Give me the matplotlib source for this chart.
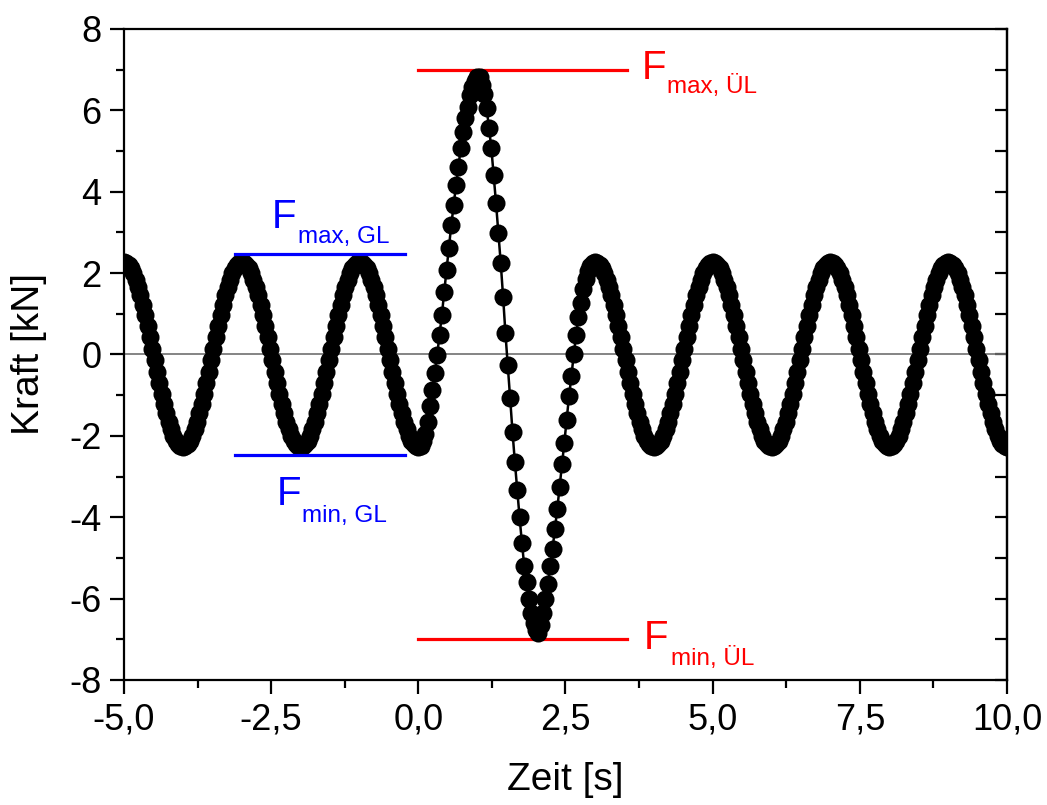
import numpy as np
import matplotlib
matplotlib.use("Agg")
import matplotlib.pyplot as plt
from matplotlib.ticker import MultipleLocator, FuncFormatter, NullFormatter

plt.rcParams['font.family'] = ['Liberation Sans', 'DejaVu Sans']
plt.rcParams['axes.unicode_minus'] = False

# ---------------- data ----------------
abtastintervall = 0.04   # s
zeit_start = -5.0

# regular load, t = -5.00 ... -0.04 s
kraft_vor = [
    2.28, 2.26, 2.21, 2.12, 2.00, 1.84, 1.66, 1.45, 1.22, 0.97,
    0.70, 0.43, 0.14, -0.14, -0.43, -0.70, -0.97, -1.22, -1.45, -1.66,
    -1.84, -2.00, -2.12, -2.21, -2.26, -2.28, -2.26, -2.21, -2.12, -2.00,
    -1.84, -1.66, -1.45, -1.22, -0.97, -0.70, -0.43, -0.14, 0.14, 0.43,
    0.70, 0.97, 1.22, 1.45, 1.66, 1.84, 2.00, 2.12, 2.21, 2.26,
    2.28, 2.26, 2.21, 2.12, 2.00, 1.84, 1.66, 1.45, 1.22, 0.97,
    0.70, 0.43, 0.14, -0.14, -0.43, -0.70, -0.97, -1.22, -1.45, -1.66,
    -1.84, -2.00, -2.12, -2.21, -2.26, -2.28, -2.26, -2.21, -2.12, -2.00,
    -1.84, -1.66, -1.45, -1.22, -0.97, -0.70, -0.43, -0.14, 0.14, 0.43,
    0.70, 0.97, 1.22, 1.45, 1.66, 1.84, 2.00, 2.12, 2.21, 2.26,
    2.28, 2.26, 2.21, 2.12, 2.00, 1.84, 1.66, 1.45, 1.22, 0.97,
    0.70, 0.43, 0.14, -0.14, -0.43, -0.70, -0.97, -1.22, -1.45, -1.66,
    -1.84, -2.00, -2.12, -2.21, -2.26,
]

# overload cycle, t = 0.00 ... 3.00 s
kraft_ueberlast = [
    -2.28, -2.24, -2.13, -1.95, -1.65, -1.27, -0.87, -0.45, -0.01, 0.48,
    0.97, 1.54, 2.08, 2.62, 3.18, 3.67, 4.16, 4.60, 5.07, 5.47,
    5.80, 6.08, 6.37, 6.57, 6.72, 6.82, 6.83, 6.62, 6.40, 6.06,
    5.57, 5.08, 4.40, 3.72, 2.98, 2.25, 1.42, 0.52, -0.27, -1.08,
    -1.90, -2.64, -3.33, -4.00, -4.63, -5.20, -5.60, -6.00, -6.35, -6.60,
    -6.78, -6.85, -6.65, -6.35, -6.00, -5.65, -5.20, -4.78, -4.30, -3.80,
    -3.26, -2.70, -2.17, -1.60, -1.03, -0.54, 0.00, 0.48, 0.93, 1.27,
    1.60, 1.85, 2.05, 2.18, 2.25, 2.28,
]

# regular load again, t = 3.04 ... 10.00 s
kraft_nach = [
    2.26, 2.21, 2.12, 2.00, 1.84, 1.66, 1.45, 1.22, 0.97,
    0.70, 0.43, 0.14, -0.14, -0.43, -0.70, -0.97, -1.22, -1.45, -1.66,
    -1.84, -2.00, -2.12, -2.21, -2.26, -2.28, -2.26, -2.21, -2.12, -2.00,
    -1.84, -1.66, -1.45, -1.22, -0.97, -0.70, -0.43, -0.14, 0.14, 0.43,
    0.70, 0.97, 1.22, 1.45, 1.66, 1.84, 2.00, 2.12, 2.21, 2.26,
    2.28, 2.26, 2.21, 2.12, 2.00, 1.84, 1.66, 1.45, 1.22, 0.97,
    0.70, 0.43, 0.14, -0.14, -0.43, -0.70, -0.97, -1.22, -1.45, -1.66,
    -1.84, -2.00, -2.12, -2.21, -2.26, -2.28, -2.26, -2.21, -2.12, -2.00,
    -1.84, -1.66, -1.45, -1.22, -0.97, -0.70, -0.43, -0.14, 0.14, 0.43,
    0.70, 0.97, 1.22, 1.45, 1.66, 1.84, 2.00, 2.12, 2.21, 2.26,
    2.28, 2.26, 2.21, 2.12, 2.00, 1.84, 1.66, 1.45, 1.22, 0.97,
    0.70, 0.43, 0.14, -0.14, -0.43, -0.70, -0.97, -1.22, -1.45, -1.66,
    -1.84, -2.00, -2.12, -2.21, -2.26, -2.28, -2.26, -2.21, -2.12, -2.00,
    -1.84, -1.66, -1.45, -1.22, -0.97, -0.70, -0.43, -0.14, 0.14, 0.43,
    0.70, 0.97, 1.22, 1.45, 1.66, 1.84, 2.00, 2.12, 2.21, 2.26,
    2.28, 2.26, 2.21, 2.12, 2.00, 1.84, 1.66, 1.45, 1.22, 0.97,
    0.70, 0.43, 0.14, -0.14, -0.43, -0.70, -0.97, -1.22, -1.45, -1.66,
    -1.84, -2.00, -2.12, -2.21, -2.26, -2.28,
]

# limit lines
f_max_gl = 2.47
f_min_gl = -2.47
gl_zeit = [-3.11, -0.23]
f_max_ul = 7.0
f_min_ul = -7.0
ul_zeit = [0.0, 3.54]

x_ticks = [-5.0, -2.5, 0.0, 2.5, 5.0, 7.5, 10.0]
y_ticks = [-8, -6, -4, -2, 0, 2, 4, 6, 8]

# ---------------- plot ----------------
kraft = np.array(kraft_vor + kraft_ueberlast + kraft_nach)
zeit = np.round(zeit_start + abtastintervall * np.arange(len(kraft)), 2)

fig = plt.figure(figsize=(10.47, 8.05), dpi=100)
ax = fig.add_axes([0.1184, 0.1553, 0.8434, 0.8087])

ax.axhline(0, color='#707070', lw=1.2, zorder=1)
ax.plot(zeit, kraft, '-', color='black', lw=1.8, marker='o', ms=13,
        mew=0, zorder=3)

ax.plot(gl_zeit, [f_max_gl, f_max_gl], color='#0000FF', lw=2.3, zorder=4)
ax.plot(gl_zeit, [f_min_gl, f_min_gl], color='#0000FF', lw=2.3, zorder=4)
ax.plot(ul_zeit, [f_max_ul, f_max_ul], color='#FF0000', lw=2.3, zorder=2)
ax.plot(ul_zeit, [f_min_ul, f_min_ul], color='#FF0000', lw=2.3, zorder=2)

def label(x, y, xs, ys, sub, color):
    ax.text(x, y, 'F', color=color, fontsize=29, ha='left', va='baseline')
    ax.text(xs, ys, sub, color=color, fontsize=17.5, ha='left', va='baseline')

label(3.80, 6.77, 4.22, 6.42, 'max, ÜL', '#FF0000')
label(3.83, -7.23, 4.29, -7.63, 'min, ÜL', '#FF0000')
label(-2.49, 3.11, -2.05, 2.74, 'max, GL', '#0000FF')
label(-2.40, -3.70, -1.98, -4.12, 'min, GL', '#0000FF')

ax.set_xlim(-5, 10)
ax.set_ylim(-8, 8)
ax.set_xticks(x_ticks)
ax.set_yticks(y_ticks)
ax.xaxis.set_minor_locator(MultipleLocator(1.25))
ax.yaxis.set_minor_locator(MultipleLocator(1))
ax.xaxis.set_major_formatter(FuncFormatter(lambda v, p: f"{v:.1f}".replace('.', ',')))
ax.yaxis.set_major_formatter(FuncFormatter(lambda v, p: f"{v:.0f}"))

for s in ax.spines.values():
    s.set_linewidth(1.6)
ax.tick_params(which='major', direction='out', length=10, width=1.6,
               labelsize=26, pad=6, top=False, right=False)
ax.tick_params(which='minor', direction='out', length=5.5, width=1.6,
               top=False, right=False)

# inward ticks on the right axis
sec = ax.secondary_yaxis('right')
sec.set_yticks(y_ticks)
sec.yaxis.set_minor_locator(MultipleLocator(1))
sec.yaxis.set_major_formatter(NullFormatter())
sec.tick_params(which='both', direction='in', length=9, width=1.6)
sec.spines['right'].set_linewidth(1.6)

ax.set_xlabel('Zeit [s]', fontsize=28, labelpad=18)
ax.set_ylabel('Kraft [kN]', fontsize=28, labelpad=16)

fig.savefig('out.png', dpi=100)
